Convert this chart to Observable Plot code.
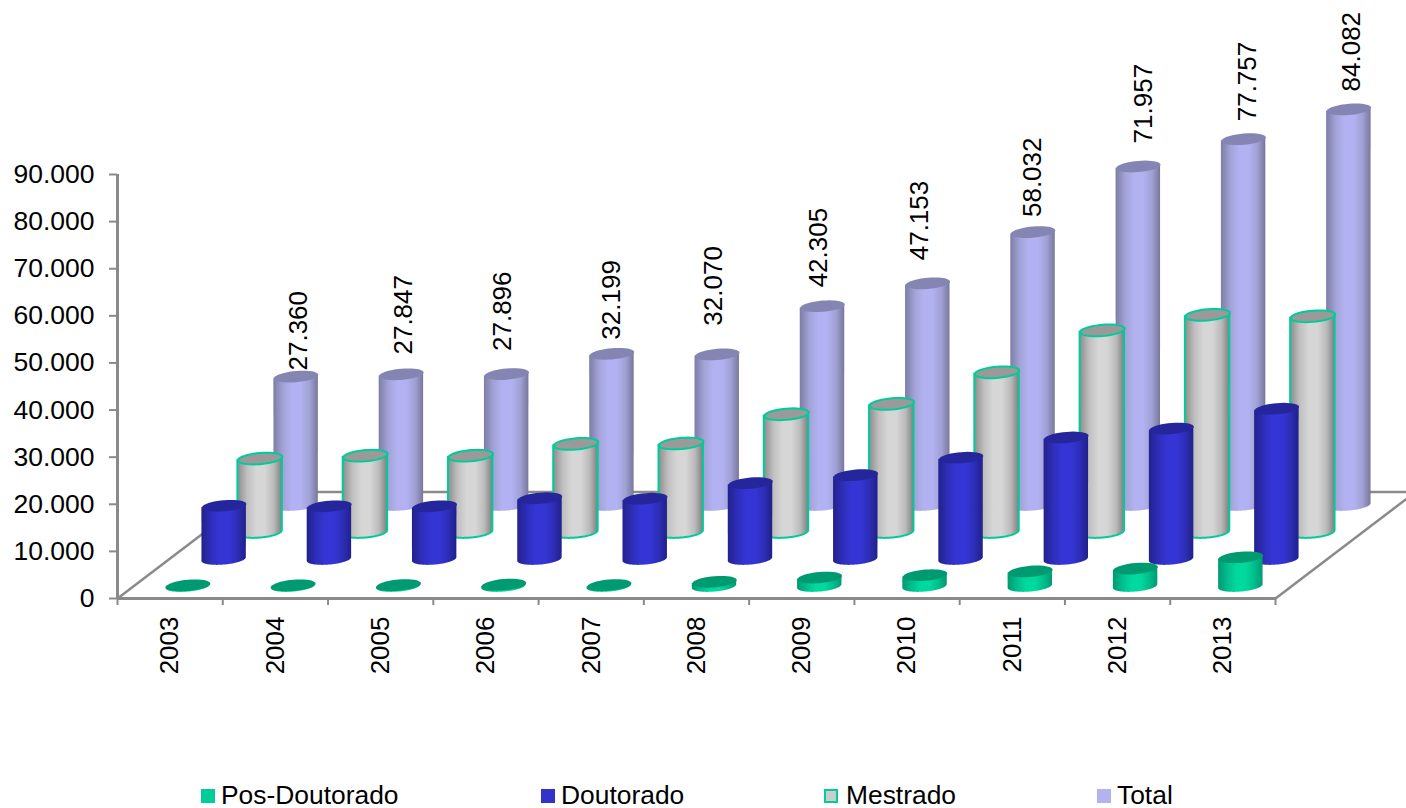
<!DOCTYPE html>
<html lang="pt">
<head>
<meta charset="utf-8">
<title>Bolsas por nível, 2003 a 2013</title>
<script src="https://cdn.jsdelivr.net/npm/d3@7"></script>
<script src="https://cdn.jsdelivr.net/npm/@observablehq/plot@0.6"></script>
<style>
  html, body { margin: 0; padding: 0; background: #fff; overflow: hidden; width: 1406px; height: 808px; }
  #chart svg { display: block; }
  #legend { position: relative; height: 38px; font: 26.4px "Liberation Sans", Arial, sans-serif; color: #000; }
  #legend span { position: absolute; white-space: nowrap; }
  #legend i { position: absolute; box-sizing: border-box; width: 14px; height: 14px; top: 19px; }
</style>
</head>
<body>
<div id="chart"></div>
<div id="legend"></div>
<script>
// Yearly values per level of study
const years = [2003, 2004, 2005, 2006, 2007, 2008, 2009, 2010, 2011, 2012, 2013];
const posDoutorado = [250, 250, 300, 400, 300, 1000, 1900, 2400, 3200, 3800, 6200];
const doutorado = [11400, 11300, 11300, 13000, 12900, 16200, 17900, 21600, 25900, 27800, 32000];
const mestrado = [15700, 16300, 16300, 18800, 18900, 25100, 27300, 34000, 42900, 46200, 45900];
const total = [27360, 27847, 27896, 32199, 32070, 42305, 47153, 58032, 71957, 77757, 84082];

// Hand placement of each total label: lift in value units, nudge in years
const labelLift = [1300, 4200, 4900, 3000, 6100, 4000, 4900, 3200, 4900, 3800, 3800];
const labelNudge = [0, -0.01, -0.065, -0.03, -0.065, -0.065, -0.105, -0.03, 0.02, 0.015, 0];

const number = d3.format(",");
const brazilian = (v) => number(v).replace(/,/g, ".");

// Each series sits further back on the floor; shift holds its screen offset
const series = [
  {name: "Total", values: total, gradient: "gradTotal", cap: "#8585b4", shift: [126, -93], stroke: "none"},
  {name: "Mestrado", values: mestrado, gradient: "gradMestrado", cap: "#9a9a9a", shift: [90, -66], stroke: "#00cc99"},
  {name: "Doutorado", values: doutorado, gradient: "gradDoutorado", cap: "#26269c", shift: [54, -39], stroke: "none"},
  {name: "Pos-Doutorado", values: posDoutorado, gradient: "gradPos", cap: "#009a70", shift: [18, -12], stroke: "none"}
];

const gradients = {
  gradTotal: ["#7d7da6", "#a3a3d8", "#b2b2f2", "#b2b2f2", "#a0a0d4", "#77779c"],
  gradMestrado: ["#8c8c8c", "#c0c0c0", "#d6d6d6", "#d6d6d6", "#bababa", "#7e7e7e"],
  gradDoutorado: ["#22228c", "#2e2eba", "#3535d6", "#3535d6", "#2d2db6", "#20208a"],
  gradPos: ["#009a70", "#00bf8e", "#00d99e", "#00d99e", "#00bc8b", "#009a70"]
};
const gradientOffsets = [0, 0.22, 0.42, 0.62, 0.82, 1];

// Cylinder ends are sheared ellipses that rise slightly to the right
const radiusX = 22.2, radiusY = 5.6, shear = 1.8;
const arc = (cx, cy, from, to) => d3.range(41).map((k) => {
  const t = from + (to - from) * k / 40;
  return [cx + radiusX * Math.cos(t), cy + radiusY * Math.sin(t) - shear * Math.cos(t)];
});

const capSymbol = {
  draw(context) {
    arc(0, 0, 0, 2 * Math.PI).forEach(([x, y], i) => (i ? context.lineTo(x, y) : context.moveTo(x, y)));
    context.closePath();
  }
};

// Turns each rect of the mark into a cylinder body with a rounded foot
function cylinderBody(index, scales, values, dimensions, context, next) {
  const g = next(index, scales, values, dimensions, context);
  d3.select(g).selectAll("rect").each(function () {
    const rect = d3.select(this);
    const x = +rect.attr("x"), y = +rect.attr("y"), w = +rect.attr("width"), h = +rect.attr("height");
    const cx = x + w / 2;
    const foot = arc(cx, y + h, Math.PI, 0);
    const d = `M${x},${y + shear}L${foot.map((p) => p.join(",")).join("L")}L${x + w},${y - shear}Z`;
    d3.select(g).insert("path", () => this).attr("d", d);
    rect.remove();
  });
  return g;
}

function gradientDefs() {
  const defs = d3.create("svg:defs");
  for (const [id, colors] of Object.entries(gradients)) {
    const gradient = defs.append("linearGradient").attr("id", id);
    colors.forEach((c, i) => gradient.append("stop").attr("offset", gradientOffsets[i]).attr("stop-color", c));
  }
  return defs.node();
}

const axisColor = "#8a8a8a";
const halfYears = [...years.map((y) => y - 0.5), 2013.5];
const floorDepthX = 1.33, floorDepthY = 22600;
const floorEdges = [
  {x1: 2002.5, y1: 0, x2: 2002.5 + floorDepthX, y2: floorDepthY},
  {x1: 2013.5, y1: 0, x2: 2013.5 + floorDepthX, y2: floorDepthY},
  {x1: 2002.5 + floorDepthX, y1: floorDepthY, x2: 2013.5 + floorDepthX, y2: floorDepthY}
];

const labelRows = years.map((year, i) => ({year: year + labelNudge[i], value: total[i], at: total[i] + labelLift[i]}));

const columnMarks = series.flatMap((s) => {
  const rows = years.map((year, i) => ({year, value: s.values[i]}));
  const [dx, dy] = s.shift;
  const marks = [
    Plot.rect(rows, {
      x1: (d) => d.year - 0.5,
      x2: (d) => d.year + 0.5,
      y1: 0,
      y2: "value",
      insetLeft: 30.4,
      insetRight: 30.4,
      dx,
      dy,
      fill: `url(#${s.gradient})`,
      stroke: s.stroke,
      strokeWidth: 2,
      render: cylinderBody
    }),
    Plot.dot(rows, {
      x: "year",
      y: "value",
      dx,
      dy,
      symbol: capSymbol,
      fill: s.cap,
      stroke: s.stroke,
      strokeWidth: 2
    })
  ];
  // Total labels sit behind the column tops
  if (s.name === "Total") {
    marks.unshift(Plot.text(labelRows, {
      x: "year",
      y: "at",
      text: (d) => brazilian(d.value),
      rotate: -90,
      textAnchor: "start",
      lineAnchor: "middle",
      dx: 129,
      dy: -93,
      fontSize: 26,
      fill: "#000"
    }));
  }
  return marks;
});

const chart = Plot.plot({
  width: 1406,
  height: 770,
  marginLeft: 117,
  marginRight: 131,
  marginTop: 174,
  marginBottom: 172,
  style: {fontFamily: "'Liberation Sans', Arial, sans-serif", background: "#fff", color: "#000"},
  x: {domain: [2002.5, 2013.5]},
  y: {domain: [0, 90000]},
  marks: [
    gradientDefs,
    Plot.link(floorEdges, {x1: "x1", y1: "y1", x2: "x2", y2: "y2", stroke: axisColor, strokeWidth: 2.5}),
    Plot.ruleX([2002.5], {y1: 0, y2: 90000, stroke: axisColor, strokeWidth: 3}),
    Plot.ruleY([0], {x1: 2002.5, x2: 2013.5, stroke: axisColor, strokeWidth: 3}),
    Plot.axisY({
      ticks: d3.range(0, 90001, 10000),
      tickFormat: brazilian,
      tickSize: 8,
      tickPadding: 15,
      fontSize: 26.5,
      label: null,
      stroke: axisColor,
      strokeWidth: 2,
      fill: "#000"
    }),
    Plot.axisX({
      ticks: halfYears,
      tickFormat: () => "",
      tickSize: 7,
      label: null,
      stroke: axisColor,
      strokeWidth: 2
    }),
    Plot.axisX({
      ticks: years,
      tickFormat: (d) => String(d),
      tickSize: 0,
      tickPadding: 18,
      tickRotate: -90,
      fontSize: 26,
      label: null,
      fill: "#000"
    }),
    ...columnMarks
  ]
});
document.getElementById("chart").append(chart);

// Legend below the chart
const legendItems = [
  {label: "Pos-Doutorado", swatch: 201, text: 221, style: "background:#00cc99"},
  {label: "Doutorado", swatch: 541, text: 561, style: "background:#3333cc"},
  {label: "Mestrado", swatch: 824, text: 846, style: "background:#cccccc;border:2px solid #00cc99"},
  {label: "Total", swatch: 1097, text: 1117, style: "background:#b2b2ee"}
];
const legend = document.getElementById("legend");
for (const item of legendItems) {
  const swatch = document.createElement("i");
  swatch.style.cssText = `left:${item.swatch}px;${item.style}`;
  const text = document.createElement("span");
  text.style.cssText = `left:${item.text}px;top:10px`;
  text.textContent = item.label;
  legend.append(swatch, text);
}
</script>
</body>
</html>
